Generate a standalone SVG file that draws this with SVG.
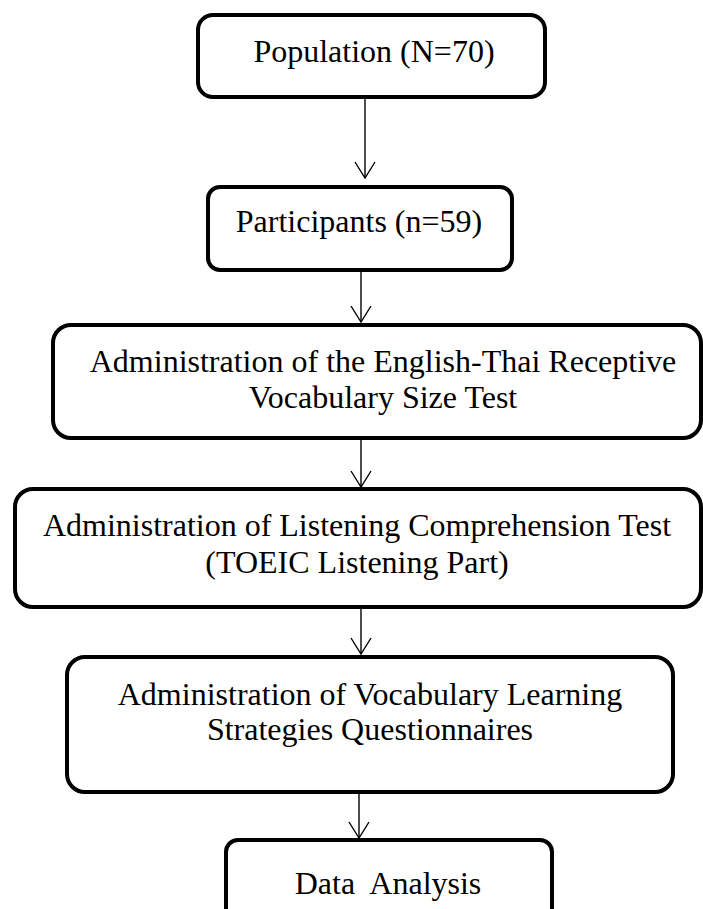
<svg xmlns="http://www.w3.org/2000/svg" width="703" height="909" viewBox="0 0 703 909">
  <defs>
    <style>
      .box { fill: #ffffff; stroke: #000000; stroke-width: 4; }
      .lbl { font-family: "Liberation Serif", "Times New Roman", serif; font-size: 32px; fill: #000000; text-anchor: middle; }
      .conn { stroke: #000000; stroke-width: 1.4; fill: none; }
    </style>
    <marker id="vhead" viewBox="0 0 18 22" refX="17" refY="11" markerWidth="18" markerHeight="22" markerUnits="userSpaceOnUse" orient="auto">
      <path d="M1,1 L17,11 L1,21" fill="none" stroke="#000" stroke-width="1.4"/>
    </marker>
  </defs>
  <rect width="703" height="909" fill="#ffffff"/>

  <g id="connectors">
    <line class="conn" x1="365" y1="97" x2="365" y2="178" marker-end="url(#vhead)"/>
    <line class="conn" x1="361" y1="270" x2="361" y2="322" marker-end="url(#vhead)"/>
    <line class="conn" x1="361" y1="438" x2="361" y2="487" marker-end="url(#vhead)"/>
    <line class="conn" x1="361" y1="607" x2="361" y2="654" marker-end="url(#vhead)"/>
    <line class="conn" x1="359" y1="792" x2="359" y2="838" marker-end="url(#vhead)"/>
  </g>

  <g id="population">
    <rect class="box" x="198" y="15" width="347" height="82" rx="15"/>
    <text class="lbl" x="374" y="62">Population (N=70)</text>
  </g>

  <g id="participants">
    <rect class="box" x="208" y="187" width="304" height="83" rx="12"/>
    <text class="lbl" x="359" y="232">Participants (n=59)</text>
  </g>

  <g id="vocab-size-test">
    <rect class="box" x="53" y="325" width="648" height="113" rx="18"/>
    <text class="lbl" x="383" y="372">Administration of the English-Thai Receptive</text>
    <text class="lbl" x="383" y="408">Vocabulary Size Test</text>
  </g>

  <g id="listening-test">
    <rect class="box" x="15" y="489" width="686" height="118" rx="18"/>
    <text class="lbl" x="357" y="536">Administration of Listening Comprehension Test</text>
    <text class="lbl" x="357" y="573">(TOEIC Listening Part)</text>
  </g>

  <g id="vls-questionnaire">
    <rect class="box" x="67" y="657" width="606" height="135" rx="18"/>
    <text class="lbl" x="370" y="705">Administration of Vocabulary Learning</text>
    <text class="lbl" x="370" y="740">Strategies Questionnaires</text>
  </g>

  <g id="data-analysis">
    <rect class="box" x="226" y="840" width="326" height="100" rx="12"/>
    <text class="lbl" x="388" y="894" xml:space="preserve">Data  Analysis</text>
  </g>
</svg>
